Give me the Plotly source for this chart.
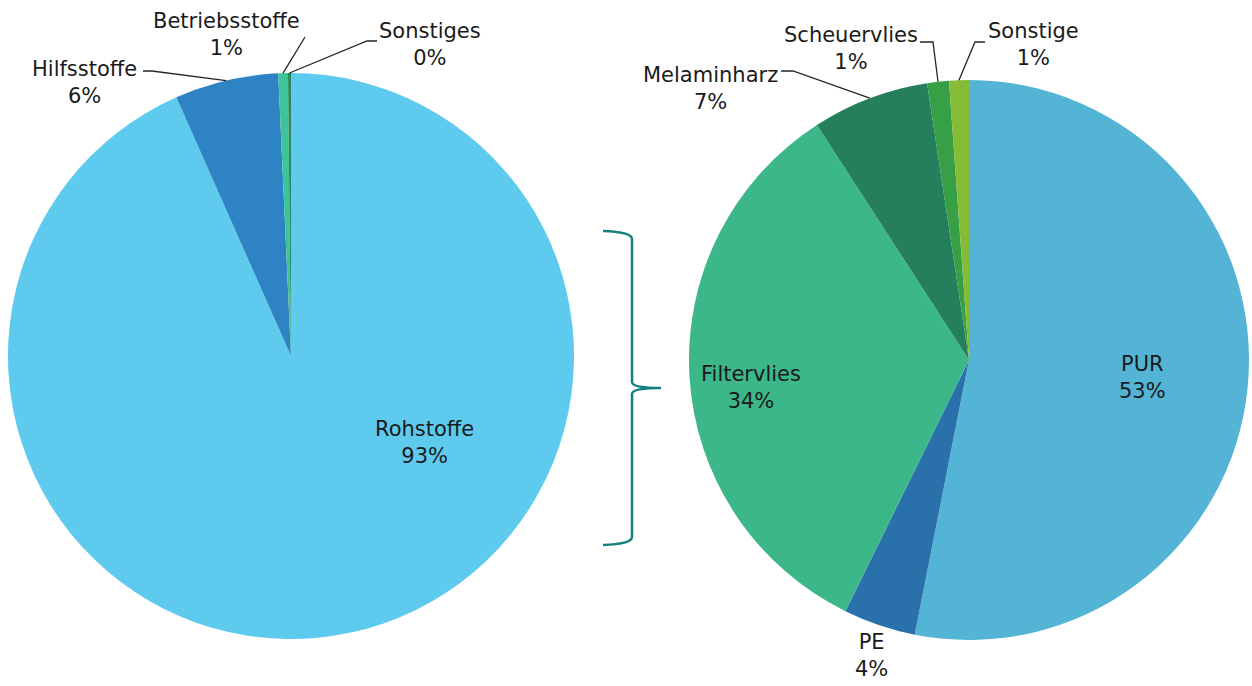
import math
import plotly.graph_objects as go

W, H = 1252, 686

# ---- data ----
left_labels = ["Rohstoffe", "Hilfsstoffe", "Betriebsstoffe", "Sonstiges"]
left_values = [93.36, 5.92, 0.55, 0.17]
left_colors = ["#5DCAEE", "#2E83C4", "#3DC49A", "#2A8A5E"]

right_labels = ["PUR", "PE", "Filtervlies", "Melaminharz", "Scheuervlies", "Sonstige"]
right_values = [53.1, 4.17, 33.58, 6.75, 1.25, 1.14]
right_colors = ["#54B4D6", "#2A71AC", "#3BB78A", "#267F5C", "#37A047", "#84BC38"]

FONT = "DejaVu Sans"
FS = 21

# ---- geometry (pixels) ----
L_C, L_R = (291, 356), 283
R_C, R_R = (969, 360), 280


def px(x):
    return x / W


def py(y):
    return 1 - y / H


def domain(c, r):
    return dict(x=[px(c[0] - r), px(c[0] + r)], y=[py(c[1] + r), py(c[1] - r)])


fig = go.Figure()
fig.add_trace(go.Pie(labels=left_labels, values=left_values, sort=False,
                     direction="clockwise", rotation=0, textinfo="none",
                     marker=dict(colors=left_colors, line=dict(width=0)),
                     domain=domain(L_C, L_R), showlegend=False, hoverinfo="label+percent"))
fig.add_trace(go.Pie(labels=right_labels, values=right_values, sort=False,
                     direction="clockwise", rotation=0, textinfo="none",
                     marker=dict(colors=right_colors, line=dict(width=0)),
                     domain=domain(R_C, R_R), showlegend=False, hoverinfo="label+percent"))


def label_texts(labels, values):
    tot = sum(values)
    return {l: f"{l}<br>{round(v / tot * 100)}%" for l, v in zip(labels, values)}


def mid_tips(labels, values, c, r):
    tot = sum(values)
    cum = 0
    tips = {}
    for l, v in zip(labels, values):
        a = (cum + v / 2) / tot * 2 * math.pi
        tips[l] = (c[0] + r * math.sin(a), c[1] - r * math.cos(a))
        cum += v
    return tips


lt = label_texts(left_labels, left_values)
rt = label_texts(right_labels, right_values)
texts = {**lt, **rt}
ltips = mid_tips(left_labels, left_values, L_C, L_R)
rtips = mid_tips(right_labels, right_values, R_C, R_R)
tips = {**ltips, **rtips}

# label centres (pixels)
label_pos = {
    "Rohstoffe": (424, 442),
    "Hilfsstoffe": (85, 83),
    "Betriebsstoffe": (226, 35),
    "Sonstiges": (430, 45),
    "PUR": (1142, 378),
    "PE": (871, 655),
    "Filtervlies": (751, 387),
    "Melaminharz": (710, 88),
    "Scheuervlies": (851, 48),
    "Sonstige": (1033, 45),
}
# leader line start + elbow (pixels)
leaders = {
    "Hilfsstoffe": [(143, 71), (152, 71)],
    "Betriebsstoffe": [(305, 37)],
    "Sonstiges": [(377, 41), (367, 41)],
    "Melaminharz": [(781, 71), (793, 71)],
    "Scheuervlies": [(920, 42), (933, 42)],
    "Sonstige": [(985, 42), (975, 42)],
}

annotations = []
for name, (x, y) in label_pos.items():
    annotations.append(dict(x=px(x), y=py(y), xref="paper", yref="paper",
                            text=texts[name], showarrow=False, align="center",
                            xanchor="center", yanchor="middle",
                            font=dict(family=FONT, size=FS, color="#1a1a1a")))

shapes = []
for name, pts in leaders.items():
    allp = pts + [tips[name]]
    path = "M " + " L ".join(f"{px(a):.5f},{py(b):.5f}" for a, b in allp)
    shapes.append(dict(type="path", path=path, xref="paper", yref="paper",
                       line=dict(color="#262626", width=1.3)))

# brace
bx0, bx1, bxt = 603, 632, 661
by0, bym, by1 = 231, 388, 545
brace = [
    ("M", [(bx0, by0)]),
    ("Q", [(bx1, by0 + 1), (bx1, by0 + 8)]),
    ("L", [(bx1, bym - 6)]),
    ("Q", [(bx1, bym), (bxt, bym)]),
    ("Q", [(bx1, bym), (bx1, bym + 6)]),
    ("L", [(bx1, by1 - 8)]),
    ("Q", [(bx1, by1 - 1), (bx0, by1)]),
]
bpath = " ".join(cmd + " " + " ".join(f"{px(a):.5f},{py(b):.5f}" for a, b in p) for cmd, p in brace)
shapes.append(dict(type="path", path=bpath, xref="paper", yref="paper",
                   line=dict(color="#14807E", width=2.5)))

fig.update_layout(width=W, height=H, margin=dict(l=0, r=0, t=0, b=0),
                  paper_bgcolor="white", plot_bgcolor="white",
                  annotations=annotations, shapes=shapes,
                  font=dict(family=FONT, size=FS))

fig.write_html("out.html", config={"displayModeBar": False},
               post_script="document.body.style.margin='0px';document.body.style.overflow='hidden';")
